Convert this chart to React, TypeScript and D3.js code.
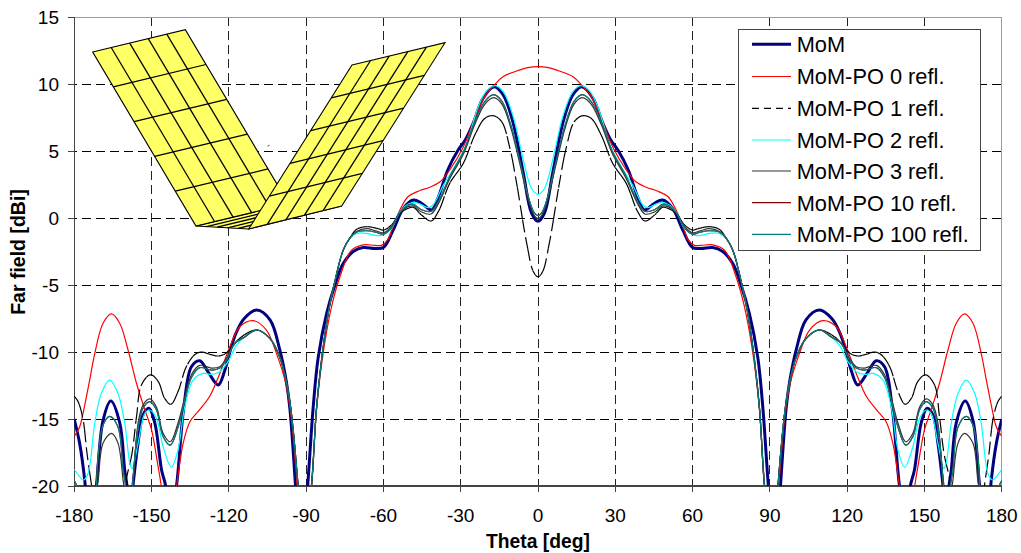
import React, { useMemo } from "react";
import * as d3 from "d3";

type P = [number, number];

const xTicks = [-180, -150, -120, -90, -60, -30, 0, 30, 60, 90, 120, 150, 180];
const yTicks = [-20, -15, -10, -5, 0, 5, 10, 15];

// Curves are symmetric about theta = 0: left half, mirrored when drawn.
const descentShared: P[] = [[-109.2, -8.36], [-104, -9], [-100.2, -10.4], [-97.6, -12.3], [-95.7, -14.6], [-93.1, -20], [-91, -25], [-87.9, -20], [-86, -14.3], [-84, -10.6], [-81.4, -7.1], [-78.8, -4.7], [-75.6, -2.4], [-73, -1.5]];

const momValues: P[] = [[-180, -15], [-177.9, -16.8], [-175.9, -19.6], [-174, -24], [-171.4, -20], [-168.8, -15.1], [-165.8, -13.65], [-162.3, -15.3], [-160.4, -18.8], [-159.5, -20], [-158.5, -22.5], [-157.2, -20], [-155.2, -16.8], [-153.3, -14.7], [-151, -14.2], [-148.7, -15.3], [-146.1, -18.8], [-144.5, -20], [-143, -23], [-140.3, -20], [-137.5, -14.2], [-134.5, -11.1], [-131.3, -10.65], [-128, -11.5], [-124.1, -12.46], [-121.6, -11.4], [-119, -9.6], [-117, -8.5], [-114, -7.5], [-109.2, -6.87], [-104, -7.6], [-100.2, -9.85], [-97.6, -12.3], [-96.3, -14.2], [-94.1, -20], [-92, -26], [-89.4, -20], [-87.2, -14], [-85.3, -10.4], [-82, -7.1], [-78.8, -5], [-75.6, -3.4], [-71.7, -2.5], [-67.8, -2.2], [-63.3, -2.27], [-60, -2.2], [-56.2, -0.9], [-52.3, 0.7], [-48.4, 1.34], [-45.2, 1.1], [-41.3, 0.6], [-38.8, 1.5], [-35, 3.6], [-31, 5.07], [-28.3, 5.8], [-25.1, 7.1], [-21.3, 8.95], [-17, 9.8], [-13.5, 9.18], [-9.6, 7.07], [-5.7, 3.35], [-2.5, 0.37], [0, -0.25]];

const refl0Values: P[] = [[-180, -16.3], [-177.9, -15.6], [-176.6, -14.6], [-174, -12.1], [-172, -10.1], [-168.8, -7.85], [-165.5, -7.16], [-162.3, -7.87], [-159.1, -9.85], [-155.8, -12.35], [-152.6, -14.3], [-150, -15.8], [-147.4, -18.6], [-146.2, -20], [-143.5, -24], [-140.3, -20], [-137.7, -16.8], [-135.1, -15.2], [-131.3, -14.3], [-127.4, -13.3], [-123.5, -11.6], [-119.6, -9.6], [-115.7, -8.1], [-110.5, -7.66], [-105.4, -8.36], [-101.5, -10.1], [-97.8, -12.4], [-95.7, -15], [-93.4, -20], [-91, -25], [-88, -20], [-85.8, -14], [-83.4, -10.1], [-80.1, -6.6], [-76.9, -4.4], [-72.4, -2.4], [-67.8, -2], [-63.3, -2.04], [-60.7, -2.04], [-58.2, -1.6], [-56.2, -0.6], [-53.6, 0.6], [-50.4, 1.6], [-46.5, 2], [-42, 2.3], [-38, 2.7], [-34.2, 3.6], [-29, 5.3], [-23.8, 7.8], [-19.9, 9.3], [-17, 9.9], [-13.6, 10.55], [-8.3, 10.97], [-4, 11.22], [0, 11.3]];

const refl1Values: P[] = [[-180, -13.3], [-178.5, -13.7], [-176.6, -15], [-175, -17.6], [-173.3, -19.9], [-167, -28], [-159.9, -19.6], [-157.6, -17.6], [-155.8, -14.8], [-153.9, -12.46], [-150.4, -11.7], [-147.4, -12.2], [-144.9, -13.45], [-142.5, -13.9], [-139.7, -12.95], [-136.5, -11.1], [-133.2, -10.2], [-130.6, -10], [-127.4, -10.17], [-124.2, -10.3], [-121.6, -10.15], [-119, -9.7], [-115.7, -8.96], ...descentShared, [-70.4, -0.85], [-66.5, -0.65], [-62, -0.8], [-60, -0.9], [-56.8, -0.5], [-53.6, 0.35], [-50.4, 0.72], [-48.4, 0.8], [-45.2, 0.22], [-41.5, -0.22], [-38.7, 0.47], [-34.2, 2.6], [-29, 4.08], [-24.5, 6.2], [-20.6, 7.44], [-17.3, 7.63], [-14.1, 7.19], [-10.9, 5.2], [-8.3, 2.6], [-4.4, -1.87], [-1.8, -4], [0, -4.38]];

const refl2Values: P[] = [[-180, -18.75], [-177.9, -19.3], [-176.3, -19.55], [-174.6, -19.05], [-172, -15.3], [-169.5, -13.1], [-166.2, -12.1], [-163, -13.1], [-160.4, -15.3], [-158.4, -18.3], [-157.5, -18.7], [-155.2, -16.8], [-152.6, -14.6], [-150.7, -14.33], [-148.1, -14.95], [-145.5, -17.07], [-142.3, -18.6], [-139.7, -17.3], [-137.1, -14.1], [-133.9, -12.1], [-130, -11.6], [-126.7, -11.67], [-123.5, -11.47], [-120.3, -10.72], [-117, -9.48], [-114, -8.9], ...descentShared, [-70.4, -1.15], [-66.5, -1.15], [-63.3, -1.3], [-60, -1.25], [-56.8, -0.77], [-53.6, 0.47], [-49.7, 1.1], [-46.5, 1.1], [-42.6, 0.77], [-40.7, 0.97], [-36.7, 2.46], [-31.6, 4.08], [-27.7, 5.57], [-23.2, 8.3], [-19.9, 9.5], [-16.7, 9.87], [-13.5, 9.43], [-9.6, 7.56], [-5.7, 4.33], [-2.5, 2.2], [0, 1.77]];

const refl3Values: P[] = [[-180, -20.3], [-177, -23], [-174, -25], [-171.4, -20.4], [-170.7, -19.6], [-168.8, -16.8], [-165.5, -16.07], [-163, -16.8], [-161, -19.6], [-160, -21], [-158.5, -23], [-157.2, -20], [-155.2, -15.3], [-153.3, -13.96], [-150.7, -13.5], [-148.1, -14.1], [-145.5, -16.07], [-142.7, -16.7], [-139.7, -15.3], [-137.1, -13.4], [-134.5, -11.7], [-131.3, -11], [-126.7, -11.2], [-123.5, -11.1], [-120.9, -10.47], [-117.7, -9.35], [-114, -8.9], ...descentShared, [-70.4, -1.0], [-66.5, -0.8], [-63, -0.95], [-60, -1.1], [-56.8, -0.62], [-53.6, 0.42], [-50.4, 0.85], [-48.4, 0.9], [-45.2, 0.45], [-41.5, 0.3], [-38.7, 1.05], [-34.2, 2.95], [-29, 4.75], [-24.5, 7], [-20.6, 8.5], [-17.2, 8.98], [-14, 8.5], [-10.5, 6.7], [-7, 4], [-3.5, 1.2], [-1.5, 0.2], [0, -0.05]];

const refl100Values: P[] = [[-180, -19.6], [-179, -20], [-177.5, -22], [-174, -25], [-171.6, -20.5], [-170.7, -17.8], [-168.8, -15.45], [-166.2, -14.8], [-163, -15.6], [-161, -18.8], [-160, -20], [-158.5, -22.5], [-157.4, -20], [-155.2, -15.6], [-153.3, -14.2], [-150.7, -13.7], [-148.1, -14.3], [-145.5, -16.3], [-142.7, -16.95], [-139.7, -15.6], [-137.1, -13.6], [-134.5, -11.9], [-131.3, -11.17], [-126.7, -11.35], [-123.5, -11.2], [-120.9, -10.6], [-117.7, -9.35], [-114, -8.9], ...descentShared, [-70.4, -1.05], [-66.5, -0.95], [-63, -1.05], [-60, -1.2], [-56.8, -0.7], [-53.6, 0.42], [-50.4, 0.95], [-48.4, 1.02], [-45.2, 0.62], [-41.5, 0.5], [-38.7, 1.2], [-34.2, 3.1], [-29, 4.9], [-24.5, 7.2], [-20.6, 8.7], [-17.2, 9.2], [-14, 8.7], [-10.5, 6.9], [-7, 4.2], [-3.5, 1.4], [-1.5, 0.4], [0, 0.17]];

const refl10Values: P[] = refl100Values;

const seriesNames = ["MoM", "MoM-PO 0 refl.", "MoM-PO 1 refl.", "MoM-PO 2 refl.", "MoM-PO 3 refl.", "MoM-PO 10 refl.", "MoM-PO 100 refl."];
const seriesValues = [momValues, refl0Values, refl1Values, refl2Values, refl3Values, refl10Values, refl100Values];
const seriesColors = ["#000080", "#ff0000", "#000000", "#00ffff", "#333333", "#800000", "#008080"];
const seriesWidths = [3, 1.2, 1.2, 1.2, 1.2, 1.2, 1.2];

// Inset picture: two meshed plates and the floor between them, in page pixels.
const leftPlate: P[] = [[92.7, 52], [185.3, 29.7], [288.7, 203.7], [196, 226]];
const rightPlate: P[] = [[352, 65], [445, 42.7], [341.7, 206], [248.7, 229]];
const floorPlate: P[] = [[196, 226], [288.7, 203.7], [341.7, 206], [248.7, 229]];
const meshDivisions = [0.2, 0.4, 0.6, 0.8];

const mirrored = (pts: P[]): P[] => [...pts, ...pts.slice(0, -1).reverse().map(([t, v]): P => [-t, v])];
const mix = (a: P, b: P, t: number): P => [a[0] + (b[0] - a[0]) * t, a[1] + (b[1] - a[1]) * t];
const poly = (pts: P[]) => pts.map((p) => p.join(",")).join(" ");

function Plate({ c, rows = true, cols = true }: { c: P[]; rows?: boolean; cols?: boolean }) {
  const [a, b, d, e] = c;
  return (
    <g>
      <polygon points={poly(c)} fill="#ffff66" stroke="#000" strokeWidth={1.1} />
      {cols && meshDivisions.map((t) => {
        const p = mix(a, b, t), q = mix(e, d, t);
        return <line key={"c" + t} x1={p[0]} y1={p[1]} x2={q[0]} y2={q[1]} stroke="#000" strokeWidth={1.25} />;
      })}
      {rows && meshDivisions.map((t) => {
        const p = mix(a, e, t), q = mix(b, d, t);
        return <line key={"r" + t} x1={p[0]} y1={p[1]} x2={q[0]} y2={q[1]} stroke="#000" strokeWidth={1.25} />;
      })}
    </g>
  );
}

const FONT = "'Liberation Sans', Arial, sans-serif";

export default function App() {
  const x = d3.scaleLinear().domain([-180, 180]).range([74.2, 1001.8]);
  const y = d3.scaleLinear().domain([-20, 15]).range([486, 17]);
  const line = d3.line<P>().x((d) => x(d[0])).y((d) => y(d[1])).curve(d3.curveCatmullRom.alpha(0.5));

  const paths = useMemo(() => seriesValues.map((s) => line(mirrored(s)) as string), []);

  // Dashes restart at every data step, so gentle parts of the 1-reflection curve look solid.
  const dashedPieces = useMemo(() => {
    const el = document.createElementNS("http://www.w3.org/2000/svg", "path");
    el.setAttribute("d", paths[2]);
    const total = el.getTotalLength();
    const groups = new Map<number, P[]>();
    for (let l = 0; l <= total; l += 0.4) {
      const pt = el.getPointAtLength(l);
      const k = Math.floor(x.invert(pt.x) / 2);
      if (!groups.has(k)) {
        const prev = groups.get(k - 1);
        groups.set(k, prev && prev.length ? [prev[prev.length - 1]] : []);
      }
      groups.get(k)!.push([pt.x, pt.y]);
    }
    return [...groups.values()].map((g) => "M" + g.map((p) => p.join(",")).join("L"));
  }, []);

  const legendRows = [44.3, 76.5, 108.3, 140, 171, 202.7, 234.3];

  return (
    <svg width={1021} height={553} style={{ position: "absolute", left: 0, top: 0, background: "#fff" }} fontFamily={FONT}>
      <defs>
        <clipPath id="plot"><rect x={x(-180)} y={y(15)} width={x(180) - x(-180)} height={y(-20) - y(15)} /></clipPath>
      </defs>

      <g shapeRendering="crispEdges">
        {yTicks.slice(1, -1).map((t) => (
          <line key={t} x1={x(-180) - 6} x2={x(180)} y1={y(t)} y2={y(t)} stroke="#000" strokeDasharray="9 5" />
        ))}
        {xTicks.slice(1, -1).map((t) => (
          <line key={t} x1={x(t)} x2={x(t)} y1={y(15)} y2={y(-20)} stroke="#222" strokeDasharray="9 5" />
        ))}
        <rect x={x(-180)} y={y(15)} width={x(180) - x(-180)} height={y(-20) - y(15)} fill="none" stroke="#9a9a9a" />
        <line x1={x(-180)} x2={x(-180)} y1={y(15)} y2={y(-20)} stroke="#444" strokeWidth={1.2} />
        <line x1={x(-180)} x2={x(180)} y1={y(-20)} y2={y(-20)} stroke="#444" strokeWidth={1.2} />
        {yTicks.map((t) => <line key={t} x1={x(-180) - 6} x2={x(-180)} y1={y(t)} y2={y(t)} stroke="#444" />)}
        {xTicks.map((t) => <line key={t} x1={x(t)} x2={x(t)} y1={y(-20)} y2={y(-20) + 6} stroke="#444" />)}
      </g>

      <Plate c={floorPlate} cols={false} />
      <Plate c={leftPlate} />
      <Plate c={rightPlate} />
      <line x1={267.5} y1={146.2} x2={269.5} y2={145.2} stroke="#ff0000" />

      <g clipPath="url(#plot)" fill="none" strokeLinejoin="round">
        {paths.map((d, i) =>
          i === 2 ? (
            <g key={i}>
              {dashedPieces.map((pd, j) => (
                <path key={j} d={pd} stroke={seriesColors[i]} strokeWidth={seriesWidths[i]} strokeDasharray="13 5" />
              ))}
            </g>
          ) : (
            <path key={i} d={d} stroke={seriesColors[i]} strokeWidth={seriesWidths[i]} />
          )
        )}
      </g>

      {yTicks.map((t) => (
        <text key={t} x={59} y={y(t)} dy="0.36em" textAnchor="end" fontSize={19} fill="#000">{t}</text>
      ))}
      {xTicks.map((t) => (
        <text key={t} x={x(t)} y={521.5} textAnchor="middle" fontSize={19} fill="#000">{t}</text>
      ))}
      <text x={538} y={548} textAnchor="middle" fontSize={19.3} fontWeight="bold">Theta [deg]</text>
      <text transform={`translate(25,252) rotate(-90)`} textAnchor="middle" fontSize={19.5} fontWeight="bold">Far field [dBi]</text>

      <rect x={738.3} y={29} width={241.7} height={221} fill="#fff" stroke="#444" strokeWidth={1} shapeRendering="crispEdges" />
      {seriesNames.map((name, i) => (
        <g key={name}>
          <line x1={752} x2={791} y1={legendRows[i]} y2={legendRows[i]} stroke={seriesColors[i]} strokeWidth={seriesWidths[i]} strokeDasharray={i === 2 ? "7 5" : undefined} />
          <text x={796.7} y={legendRows[i]} dy="0.36em" fontSize={21.8} fill="#000">{name}</text>
        </g>
      ))}
    </svg>
  );
}
